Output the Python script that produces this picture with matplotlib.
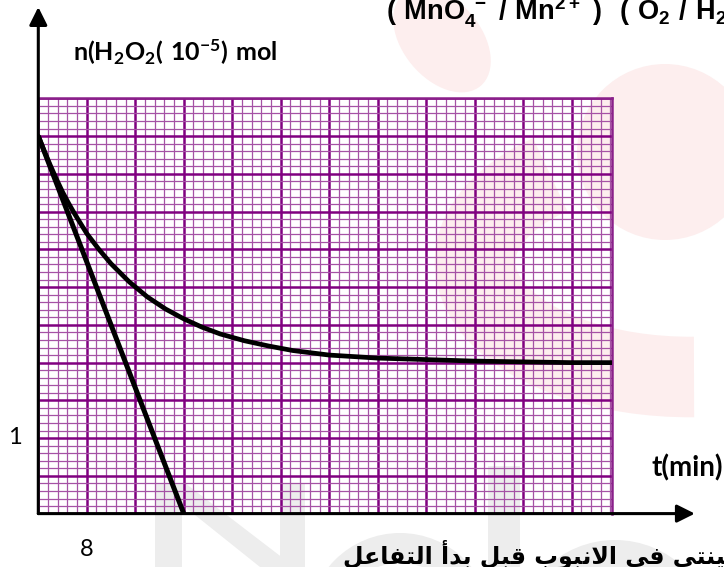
import numpy as np
import matplotlib
matplotlib.use("Agg")
import matplotlib.pyplot as plt
from matplotlib.patches import Ellipse, Wedge, Polygon, Rectangle, Circle, Arc

# data (t in min, n in 1e-5 mol)
t_curve = [0, 1, 2, 3, 4, 5, 6, 8, 10, 12, 15, 18, 21, 24, 27, 30, 34, 38,
           42, 48, 56, 64, 72, 80, 88, 94.6]
n_curve = [5.0, 4.80, 4.61, 4.43, 4.26, 4.11, 3.97, 3.71, 3.50, 3.31, 3.07,
           2.87, 2.71, 2.58, 2.47, 2.38, 2.29, 2.22, 2.16, 2.10, 2.06, 2.04,
           2.02, 2.01, 2.00, 2.00]
t_tangent = [0, 24]
n_tangent = [5, 0]

x_major = np.arange(0, 95, 8)
x_minor = np.arange(0, 94.7, 1.6)
y_major = np.arange(0, 5.51, 0.5)
y_minor = np.arange(0, 5.51, 0.1)

W, H = 724, 567

plt.rcParams["mathtext.fontset"] = "custom"
plt.rcParams["mathtext.bf"] = "Lato:bold"
plt.rcParams["mathtext.sf"] = "Liberation Sans:bold"
plt.rcParams["mathtext.rm"] = "Lato"


def px(x, y):
    return x / W, 1 - y / H


fig = plt.figure(figsize=(W / 100, H / 100), dpi=100)

# faint watermark behind everything
bg = fig.add_axes([0, 0, 1, 1], zorder=0)
bg.set_xlim(0, W)
bg.set_ylim(H, 0)
bg.axis("off")
pink = "#fdeeee"
grey = "#ededed"
bg.add_patch(Ellipse((442, 40), 120, 78, angle=50, color=pink, lw=0))
bg.add_patch(Circle((665, 152), 88, color=pink, lw=0))
bg.add_patch(Arc((690, 262), 430, 230, theta1=88, theta2=212, color=pink, lw=58))
bg.add_patch(Rectangle((155, 483), 27, 90, color=grey, lw=0))
bg.add_patch(Rectangle((280, 483), 25, 90, color=grey, lw=0))
bg.add_patch(Polygon([(155, 483), (185, 483), (305, 575), (270, 575)], color=grey, lw=0))
bg.add_patch(Wedge((400, 625), 92, 180, 360, width=30, color=grey, lw=0))
bg.add_patch(Rectangle((488, 466), 32, 110, color=grey, lw=0))
bg.add_patch(Wedge((615, 640), 100, 180, 360, width=30, color=grey, lw=0))

# graph paper
x0, y0, x1, y1 = 38.3, 513.6, 611.7, 98.4
ax = fig.add_axes([x0 / W, 1 - y0 / H, (x1 - x0) / W, (y0 - y1) / H], zorder=1)
ax.set_facecolor("none")
ax.set_xlim(0, 94.6)
ax.set_ylim(0, 5.5)
ax.set_xticks(x_major)
ax.set_xticks(x_minor, minor=True)
ax.set_yticks(y_major)
ax.set_yticks(y_minor, minor=True)
ax.tick_params(which="both", length=0, labelbottom=False, labelleft=False)
ax.grid(which="minor", color="#a552a5", lw=0.9)
ax.grid(which="major", color="#800080", lw=1.8)
ax.set_axisbelow(True)
for s in ["top", "right"]:
    ax.spines[s].set_color("#8a208a")
    ax.spines[s].set_linewidth(1.8)
for s in ["left", "bottom"]:
    ax.spines[s].set_visible(False)

ax.plot(t_curve, n_curve, color="black", lw=3.4, solid_capstyle="round", zorder=3)
ax.plot(t_tangent, n_tangent, color="black", lw=3.6, solid_capstyle="butt", zorder=3)

# axes with arrows
arrow = dict(arrowstyle="-|>,head_length=0.4,head_width=0.2", lw=2.2,
             color="black", mutation_scale=27, shrinkA=0, shrinkB=0)
ax.annotate("", xy=(0, 1.22), xytext=(0, 0), xycoords="axes fraction",
            arrowprops=arrow, annotation_clip=False)
ax.annotate("", xy=(1.145, 0), xytext=(0, 0), xycoords="axes fraction",
            arrowprops=arrow, annotation_clip=False)

# texts
fig.text(*px(73, 61), r"$\mathbf{n(H_2O_2(\ 10^{-5})\ mol}$", fontsize=18,
         ha="left", va="baseline")
fig.text(*px(386, 20), r"$\mathsf{(\ MnO_4^{\ -}\ /\ Mn^{2+}\ )\ \ (\ O_2\ /\ H_2O_2\ )}$",
         fontsize=19.5, ha="left", va="baseline")
fig.text(*px(652, 476), "t(min)", family="Lato", weight="bold", fontsize=20,
         ha="left", va="baseline")
fig.text(*px(15, 438), "1", family="Lato", fontsize=17, ha="center", va="center")
fig.text(*px(87, 550), "8", family="Lato", fontsize=17, ha="center", va="center")

arabic = ("\uFEDE\uFECB\uFE8E\uFED4\uFE98\uFEDF\uFE8D "
          "\uFE83\uFEAA\uFE91 "
          "\uFEDE\uFE92\uFED7 "
          "\uFE8F\uFEEE\uFE92\uFEE7\uFEFB\uFE8D "
          "\uFEF2\uFED3 "
          "\uFEF2\uFE98\uFEE8\uFEF4\uFEA0\uFEB4")
fig.text(*px(343, 563), arabic, family="DejaVu Sans", weight="bold", fontsize=17,
         ha="left", va="baseline")

fig.savefig("out.png", dpi=100)
